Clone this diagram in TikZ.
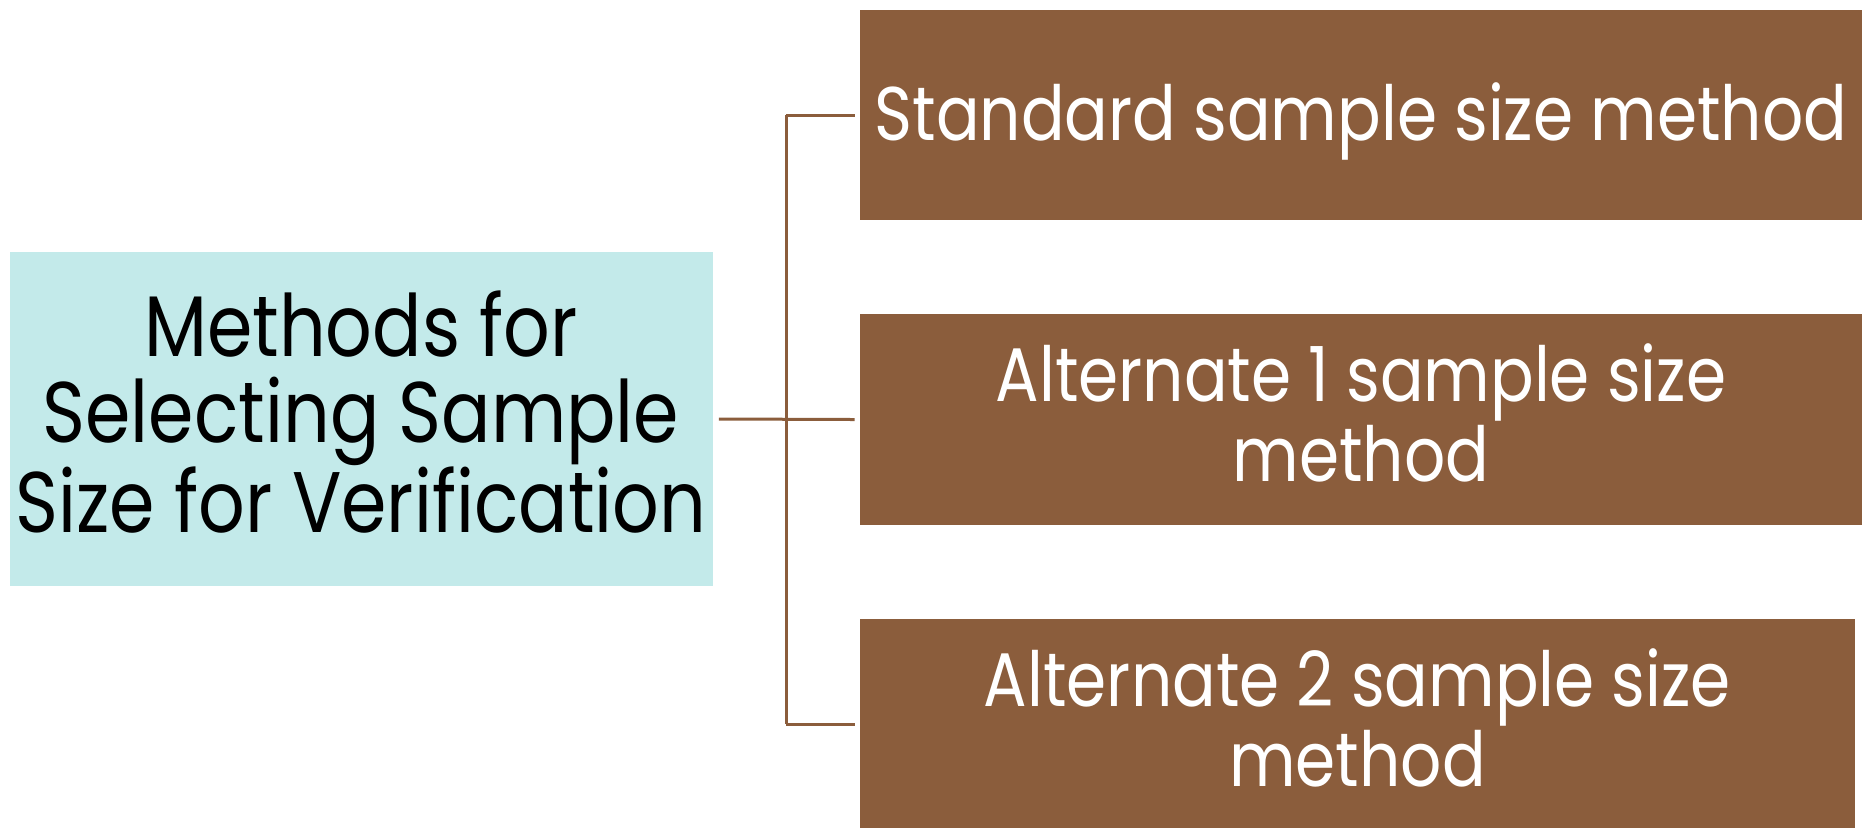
\documentclass[tikz,border=0pt]{standalone}
\usepackage{fontspec}
\newfontfamily\fut[FakeStretch=0.85]{Poppins}
\definecolor{brownbox}{HTML}{8B5D3C}
\definecolor{tealbox}{HTML}{C3EAEA}
\begin{document}
\begin{tikzpicture}[x=0.5pt,y=-0.5pt,
  mainbox/.style={fill=tealbox, draw=none, minimum width=351.5pt, minimum height=167pt, inner sep=0pt},
  maintext/.style={align=center, text=black, inner sep=0pt, font=\fut\fontsize{43}{43}\selectfont},
  methodbox/.style={fill=brownbox, draw=none, minimum height=105pt, inner sep=0pt},
  methodtext/.style={align=center, text=white, inner sep=0pt, font=\fut\fontsize{38}{40}\selectfont},
  link/.style={draw=brownbox, line width=1.5pt}]
\useasboundingbox (0,0) rectangle (1867,827);
\node[mainbox] (main) at (361,419) {};
\node[maintext, yshift=3.5pt] (maint) at (main.center) {Methods for\\Selecting Sample\\Size for Verification};
\node[methodbox, minimum width=501pt] (b1) at (1361,115) {};
\node[methodtext, anchor=base] (t1) at (1361,140) {Standard sample size method};
\node[methodbox, minimum width=501pt, minimum height=105.5pt] (b2) at (1361,419.5) {};
\node[methodtext, yshift=3.5pt] (t2) at (b2.center) {Alternate 1 sample size\\method};
\node[methodbox, minimum width=497.5pt] (b3) at (1357.5,724) {};
\node[methodtext, yshift=3pt] (t3) at (b3.center) {Alternate 2 sample size\\method};
\coordinate (bus) at (786,419);
\draw[link] ([xshift=3pt]main.east) -- ([xshift=-2.5pt]b2.west);
\draw[link] (bus |- b1.west) -- (bus |- b3.west);
\draw[link] (bus |- b1.west) -- ([xshift=-2.5pt]b1.west);
\draw[link] (bus |- b3.west) -- ([xshift=-2.5pt]b3.west);
\end{tikzpicture}
\end{document}
